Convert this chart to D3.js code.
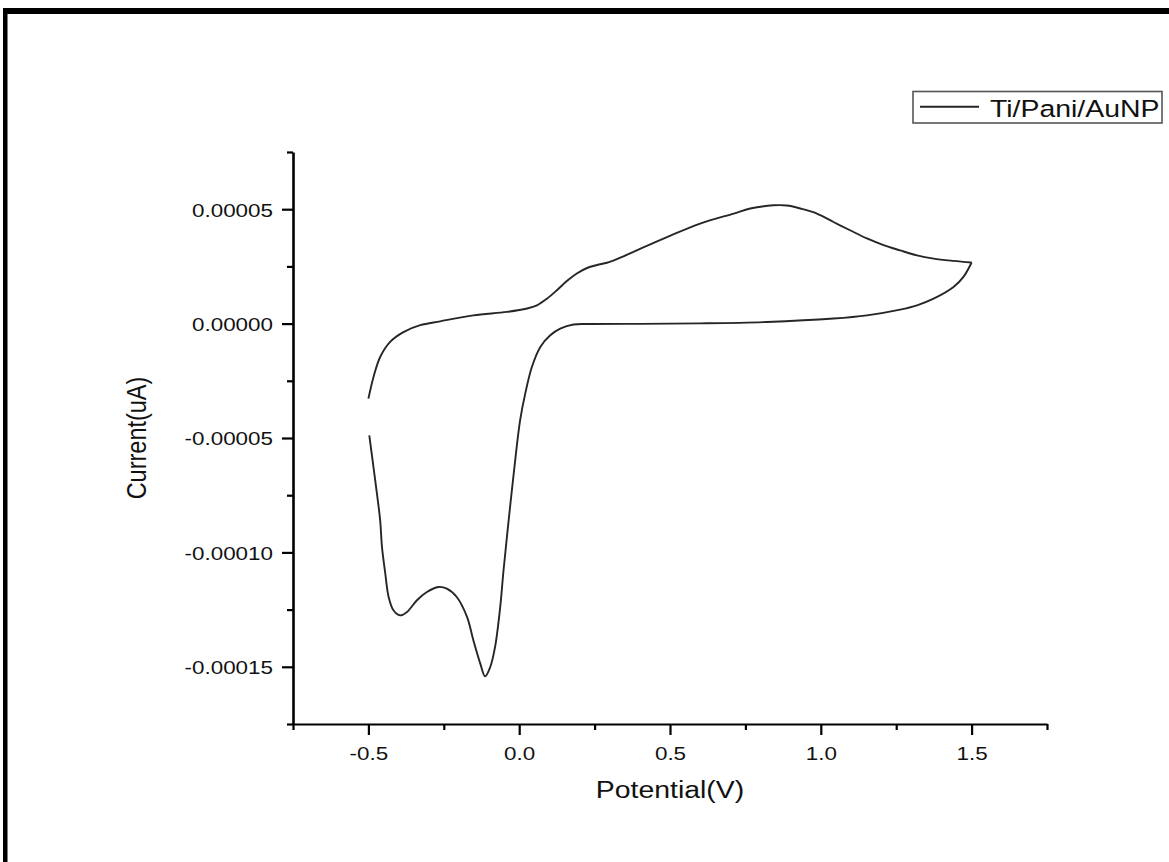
<!DOCTYPE html>
<html><head><meta charset="utf-8">
<script src="https://cdn.jsdelivr.net/npm/d3@7"></script>
<style>
body{margin:0;background:#fff}
text{font-family:"Liberation Sans",Arial,Helvetica,sans-serif;fill:#111}
</style>
</head><body>
<svg id="c" width="1169" height="862"></svg>
<script>
// ---- data (potential in V, current in A) ----
const forwardV = [-0.50,-0.483,-0.461,-0.428,-0.384,-0.328,-0.262,-0.152,-0.041,0.026,0.059,0.092,0.125,0.158,0.191,0.225,0.258,0.291,0.324,0.379,0.490,0.600,0.711,0.766,0.843,0.888,0.932,0.987,1.042,1.097,1.153,1.208,1.263,1.319,1.374,1.440,1.50];
const forwardI = [-3.28e-5,-2.33e-5,-1.46e-5,-0.80e-5,-0.37e-5,-0.07e-5,0.10e-5,0.36e-5,0.51e-5,0.66e-5,0.80e-5,1.09e-5,1.46e-5,1.86e-5,2.19e-5,2.43e-5,2.56e-5,2.66e-5,2.82e-5,3.14e-5,3.78e-5,4.37e-5,4.81e-5,5.03e-5,5.17e-5,5.16e-5,5.03e-5,4.81e-5,4.44e-5,4.08e-5,3.72e-5,3.43e-5,3.20e-5,2.98e-5,2.84e-5,2.74e-5,2.67e-5];
const reverseV = [1.50,1.473,1.440,1.374,1.319,1.263,1.153,1.042,0.821,0.600,0.401,0.235,0.180,0.136,0.103,0.070,0.042,0.020,0.003,-0.017,-0.035,-0.052,-0.063,-0.080,-0.096,-0.113,-0.129,-0.152,-0.173,-0.207,-0.240,-0.268,-0.306,-0.339,-0.372,-0.395,-0.417,-0.433,-0.444,-0.455,-0.461,-0.471,-0.484,-0.497];
const reverseI = [2.67e-5,2.04e-5,1.60e-5,1.09e-5,0.80e-5,0.61e-5,0.36e-5,0.22e-5,0.07e-5,0.01e-5,-0.01e-5,-0.02e-5,-0.04e-5,-0.22e-5,-0.51e-5,-1.02e-5,-1.90e-5,-3.06e-5,-4.23e-5,-6.41e-5,-8.60e-5,-10.79e-5,-12.39e-5,-14.13e-5,-15.01e-5,-15.42e-5,-14.86e-5,-13.84e-5,-12.82e-5,-11.95e-5,-11.58e-5,-11.51e-5,-11.73e-5,-12.09e-5,-12.60e-5,-12.75e-5,-12.53e-5,-11.95e-5,-10.93e-5,-9.76e-5,-8.60e-5,-7.50e-5,-6.19e-5,-4.88e-5];

const xMajor = [-0.5,0,0.5,1,1.5];
const xLabels = ["-0.5","0.0","0.5","1.0","1.5"];
const xMinor = [-0.75,-0.25,0.25,0.75,1.25,1.75];
const yMajor = [-0.00015,-0.0001,-0.00005,0,0.00005];
const yLabels = ["-0.00015","-0.00010","-0.00005","0.00000","0.00005"];
const yMinor = [-0.000175,-0.000125,-0.000075,-0.000025,0.000025,0.000075];
const seriesName = "Ti/Pani/AuNP";
const xTitle = "Potential(V)";
const yTitle = "Current(uA)";

// ---- layout ----
const svg = d3.select("#c");
svg.append("rect").attr("width",1169).attr("height",862).attr("fill","#fff");
// frame
svg.append("rect").attr("x",3).attr("y",8).attr("width",1166).attr("height",6).attr("fill","#000");
svg.append("rect").attr("x",3).attr("y",8).attr("width",4.5).attr("height",854).attr("fill","#000");

const L=293, R=1047, T=152, B=724;
const SX = 1.18;
const x = d3.scaleLinear().domain([-0.75,1.75]).range([L,R]);
const y = d3.scaleLinear().domain([-0.000175,0.000075]).range([B,T]);

// y axis
const gy = svg.append("g").attr("transform",`translate(${L},0)`);
gy.call(d3.axisLeft(y).tickValues(yMinor).tickSize(6).tickSizeOuter(0).tickFormat(""));
gy.call(g=>g.select(".domain").remove());
const gy2 = svg.append("g").attr("transform",`translate(${L},0)`);
gy2.call(d3.axisLeft(y).tickValues(yMajor).tickSize(11).tickSizeOuter(0).tickFormat((d,i)=>yLabels[i]));
gy2.selectAll(".tick text").attr("x",0).attr("y",0).attr("dy",null)
  .attr("text-anchor","end").attr("font-size",19)
  .attr("transform","translate(-20,6.8) scale("+SX+",1)");
[gy,gy2].forEach(g=>{g.selectAll("line").attr("stroke","#000").attr("stroke-width",2.2);});
gy2.select(".domain").attr("stroke","#000").attr("stroke-width",2.6);

// x axis
const gx = svg.append("g").attr("transform",`translate(0,${B})`);
gx.call(d3.axisBottom(x).tickValues(xMinor).tickSize(6).tickSizeOuter(0).tickFormat(""));
gx.call(g=>g.select(".domain").remove());
const gx2 = svg.append("g").attr("transform",`translate(0,${B})`);
gx2.call(d3.axisBottom(x).tickValues(xMajor).tickSize(11).tickSizeOuter(0).tickFormat((d,i)=>xLabels[i]));
gx2.selectAll(".tick text").attr("x",0).attr("y",0).attr("dy",null)
  .attr("text-anchor","middle").attr("font-size",19)
  .attr("transform","translate(0,35.5) scale("+SX+",1)");
[gx,gx2].forEach(g=>{g.selectAll("line").attr("stroke","#000").attr("stroke-width",2.2);});
gx2.select(".domain").attr("stroke","#000").attr("stroke-width",2.2);

// titles
svg.append("text").attr("text-anchor","middle").attr("font-size",23.5)
  .attr("transform",`translate(${(L+R)/2},798) scale(1.21,1)`).text(xTitle);
svg.append("text").attr("text-anchor","middle").attr("font-size",23.5)
  .attr("transform",`translate(146,${(T+B)/2}) scale(1.21,1) rotate(-90)`).text(yTitle);

// curve
const line = d3.line().x(d=>x(d[0])).y(d=>y(d[1])).curve(d3.curveCatmullRom.alpha(0.5));
const fwd = forwardV.map((v,i)=>[v,forwardI[i]]);
const rev = reverseV.map((v,i)=>[v,reverseI[i]]);
[fwd,rev].forEach(d=>{
  svg.append("path").datum(d).attr("d",line).attr("fill","none")
    .attr("stroke","#262626").attr("stroke-width",1.9).attr("stroke-linejoin","round");
});

// legend
const lg = svg.append("g");
lg.append("rect").attr("x",913).attr("y",91.5).attr("width",249).attr("height",31.5)
  .attr("fill","#fff").attr("stroke","#555").attr("stroke-width",1.6);
lg.append("line").attr("x1",920).attr("x2",979).attr("y1",106.7).attr("y2",106.7)
  .attr("stroke","#262626").attr("stroke-width",1.9);
lg.append("text").attr("font-size",24.5)
  .attr("transform",`translate(990,116.5) scale(1.16,1)`).text(seriesName);
</script>
</body></html>
